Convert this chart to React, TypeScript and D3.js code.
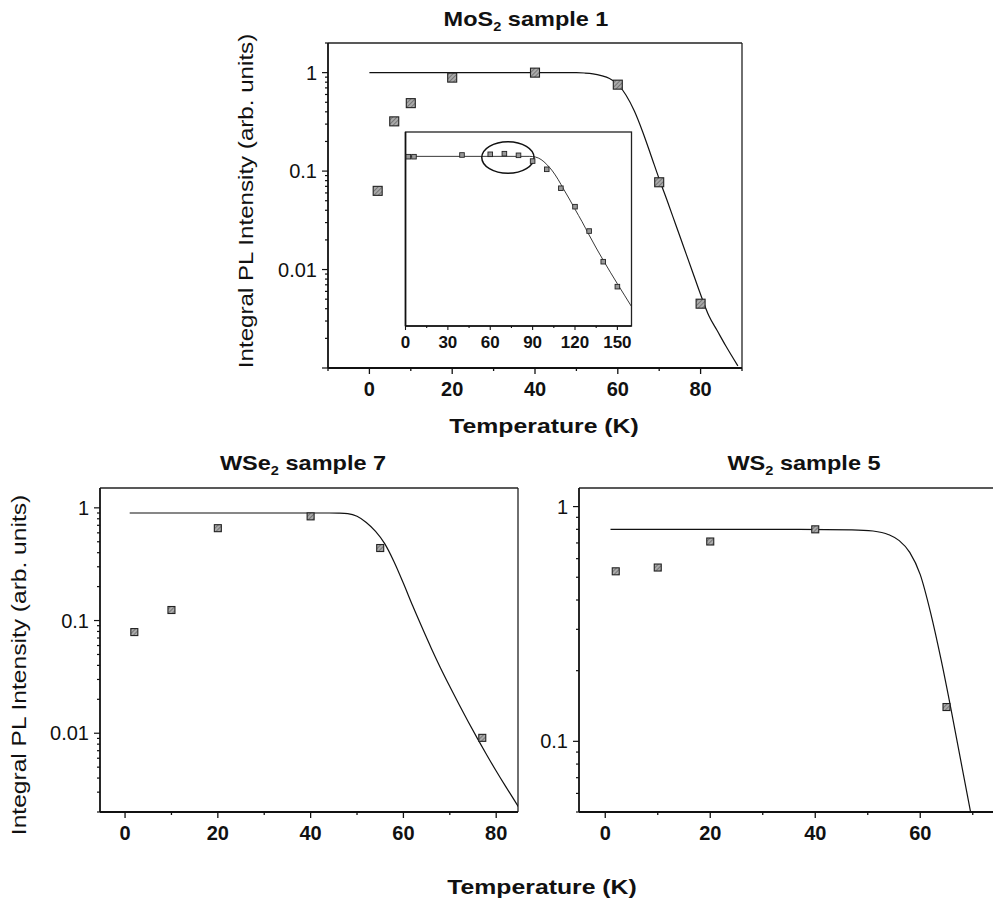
import React from 'react';
import * as d3 from 'd3';

const FONT = '"Liberation Sans", Arial, Helvetica, sans-serif';

// ---- MoS2 sample 1 (main) ----
const mos2T = [2, 6, 10, 20, 40, 60, 70, 80];
const mos2I = [0.063, 0.32, 0.49, 0.89, 1.0, 0.755, 0.077, 0.0045];
const mos2FitT = [0, 45, 50, 52, 54, 56, 58, 60, 62, 64, 66, 68, 70, 72, 74, 76, 78, 80, 82, 84, 86, 89];
const mos2FitI = [1, 1, 0.998, 0.991, 0.973, 0.933, 0.871, 0.759, 0.589, 0.407, 0.251, 0.145, 0.083, 0.0491, 0.0285, 0.01656, 0.00962, 0.00558, 0.00339, 0.0024, 0.0017, 0.00105];

// ---- MoS2 inset ----
const insetT = [2, 6, 40, 60, 70, 80, 90, 100, 110, 120, 130, 140, 150];
const insetI = [0.415, 0.415, 0.441, 0.452, 0.462, 0.436, 0.355, 0.265, 0.135, 0.07, 0.0294, 0.00987, 0.00406];
const insetFitT = [0, 88, 92, 96, 100, 104, 108, 112, 116, 120, 125, 130, 135, 140, 145, 150, 155, 160];
const insetFitI = [0.42, 0.42, 0.41, 0.375, 0.315, 0.25, 0.185, 0.13, 0.092, 0.064, 0.041, 0.0255, 0.0161, 0.0104, 0.0068, 0.0045, 0.003, 0.002];
const insetEllipseT = [54, 91];
const insetEllipseI = [0.23, 0.708];

// ---- WSe2 sample 7 ----
const wse2T = [2, 10, 20, 40, 55, 77];
const wse2I = [0.079, 0.124, 0.66, 0.84, 0.44, 0.0091];
const wse2FitT = [1, 44, 46, 48, 50, 52, 54, 56, 58, 60, 62, 64, 66, 68, 70, 72, 74, 76, 78, 80, 82, 84, 85];
const wse2FitI = [0.9, 0.9, 0.897, 0.887, 0.841, 0.741, 0.617, 0.479, 0.331, 0.214, 0.135, 0.0871, 0.0569, 0.038, 0.026, 0.018, 0.0126, 0.00891, 0.00638, 0.00462, 0.00339, 0.00251, 0.00216];

// ---- WS2 sample 5 ----
const ws2T = [2, 10, 20, 40, 65];
const ws2I = [0.53, 0.55, 0.71, 0.8, 0.14];
const ws2FitT = [1, 37, 47, 51, 54, 56, 58, 60, 62, 64, 66, 68, 70];
const ws2FitI = [0.8, 0.8, 0.796, 0.787, 0.759, 0.716, 0.638, 0.513, 0.351, 0.221, 0.132, 0.0767, 0.0447];

// ---- ticks ----
const xTicks80 = [0, 20, 40, 60, 80];
const xTicks60 = [0, 20, 40, 60];
const insetXTicks = [0, 30, 60, 90, 120, 150];
const yTicksA = [1, 0.1, 0.01];
const yTickLabelsA = ['1', '0.1', '0.01'];
const yTicksB = [1, 0.1];
const yTickLabelsB = ['1', '0.1'];

function logMinor(domain: [number, number]) {
  const out: { v: number; major: boolean }[] = [];
  const k0 = Math.floor(Math.log10(domain[0]));
  const k1 = Math.ceil(Math.log10(domain[1]));
  for (let k = k0; k <= k1; k++) {
    for (let m = 1; m <= 9; m++) {
      const v = m * Math.pow(10, k);
      if (v >= domain[0] * 0.9999 && v <= domain[1] * 1.0001) out.push({ v, major: m === 1 });
    }
  }
  return out;
}

type PanelProps = {
  id: string;
  left: number; right: number; top: number; bottom: number;
  xDomain: [number, number]; yDomain: [number, number];
  xTicks: number[]; xMinorStep: number;
  yTicks: number[]; yTickLabels: string[];
  t: number[]; v: number[]; fitT: number[]; fitV: number[];
  markerSize: number;
  children?: React.ReactNode;
};

function Panel(p: PanelProps) {
  const x = d3.scaleLinear().domain(p.xDomain).range([p.left, p.right]);
  const y = d3.scaleLog().domain(p.yDomain).range([p.bottom, p.top]);
  const line = d3
    .line<number>()
    .x((d) => x(d))
    .y((_d, i) => y(p.fitV[i]))
    .curve(d3.curveMonotoneX);
  const minorX: number[] = [];
  for (let v = Math.ceil(p.xDomain[0] / p.xMinorStep) * p.xMinorStep; v <= p.xDomain[1]; v += p.xMinorStep) minorX.push(v);
  const yt = logMinor(p.yDomain);
  const s = p.markerSize;
  return (
    <g>
      <defs>
        <clipPath id={'clip-' + p.id}>
          <rect x={p.left} y={p.top} width={p.right - p.left} height={p.bottom - p.top} />
        </clipPath>
      </defs>
      <line x1={p.left} x2={p.right} y1={p.top} y2={p.top} stroke="#222" strokeWidth={1.3} />
      <line x1={p.right} x2={p.right} y1={p.top} y2={p.bottom} stroke="#222" strokeWidth={1.3} />
      <line x1={p.left} x2={p.right} y1={p.bottom} y2={p.bottom} stroke="#111" strokeWidth={1.8} />
      <line x1={p.left} x2={p.left} y1={p.top} y2={p.bottom} stroke="#111" strokeWidth={1.8} />
      {minorX.map((v) => {
        const major = p.xTicks.includes(v);
        return (
          <line key={'xt' + v} x1={x(v)} x2={x(v)} y1={p.bottom} y2={p.bottom + (major ? 6 : 3)} stroke="#111" strokeWidth={1.3} />
        );
      })}
      {p.xTicks.map((v) => (
        <text key={'xl' + v} x={x(v)} y={p.bottom + 28} textAnchor="middle" fontFamily={FONT} fontWeight="bold" fontSize={20} fill="#111">
          {v}
        </text>
      ))}
      {yt.map((d) => (
        <line key={'yt' + d.v} x1={p.left - (d.major ? 6 : 3)} x2={p.left} y1={y(d.v)} y2={y(d.v)} stroke="#111" strokeWidth={1.2} />
      ))}
      {p.yTicks.map((v, i) => (
        <text key={'yl' + v} x={p.left - 11} y={y(v) + 7} textAnchor="end" fontFamily={FONT} fontSize={20} fill="#111">
          {p.yTickLabels[i]}
        </text>
      ))}
      <g clipPath={`url(#clip-${p.id})`}>
        <path d={line(p.fitT) || ''} fill="none" stroke="#111" strokeWidth={1.2} />
      </g>
      {p.children}
      {p.t.map((t, i) => (
        <rect key={'pt' + i} x={x(t) - s / 2} y={y(p.v[i]) - s / 2} width={s} height={s} fill="url(#hatch)" stroke="#222" strokeWidth={1.1} />
      ))}
    </g>
  );
}

function Inset() {
  const left = 405.5, right = 631.5, top = 132, bottom = 326;
  const x = d3.scaleLinear().domain([0, 160]).range([left, right]);
  const y = d3.scaleLog().domain([0.001, 1]).range([bottom, top]);
  const line = d3
    .line<number>()
    .x((d) => x(d))
    .y((_d, i) => y(insetFitI[i]))
    .curve(d3.curveMonotoneX);
  const minor: number[] = [];
  for (let v = 0; v <= 160; v += 15) minor.push(v);
  const cx = (x(insetEllipseT[0]) + x(insetEllipseT[1])) / 2;
  const rx = (x(insetEllipseT[1]) - x(insetEllipseT[0])) / 2;
  const cy = (y(insetEllipseI[0]) + y(insetEllipseI[1])) / 2;
  const ry = (y(insetEllipseI[0]) - y(insetEllipseI[1])) / 2;
  return (
    <g>
      <defs>
        <clipPath id="clip-inset">
          <rect x={left} y={top} width={right - left} height={bottom - top} />
        </clipPath>
      </defs>
      <rect x={left} y={top} width={right - left} height={bottom - top} fill="#fff" stroke="#222" strokeWidth={1.3} />
      <line x1={left} x2={right} y1={bottom} y2={bottom} stroke="#111" strokeWidth={1.6} />
      <line x1={left} x2={left} y1={top} y2={bottom} stroke="#111" strokeWidth={1.6} />
      {minor.map((v) => (
        <line key={'it' + v} x1={x(v)} x2={x(v)} y1={bottom} y2={bottom + (v % 30 === 0 ? 4 : 2)} stroke="#111" strokeWidth={1.1} />
      ))}
      {insetXTicks.map((v) => (
        <text key={'il' + v} x={x(v)} y={bottom + 22} textAnchor="middle" fontFamily={FONT} fontWeight="bold" fontSize={17} fill="#111">
          {v}
        </text>
      ))}
      <g clipPath="url(#clip-inset)">
        <path d={line(insetFitT) || ''} fill="none" stroke="#222" strokeWidth={0.9} />
      </g>
      <ellipse cx={cx} cy={cy} rx={rx} ry={ry} fill="none" stroke="#111" strokeWidth={1.5} />
      {insetT.map((t, i) => (
        <rect key={'ip' + i} x={x(t) - 2.3} y={y(insetI[i]) - 2.3} width={4.6} height={4.6} fill="#999" stroke="#222" strokeWidth={0.9} />
      ))}
    </g>
  );
}

function Title({ x, y, pre, post }: { x: number; y: number; pre: string; post: string }) {
  return (
    <text transform={`translate(${x},${y}) scale(1.12,1)`} textAnchor="middle" fontFamily={FONT} fontWeight="bold" fontSize={21} fill="#111">
      <tspan>{pre}</tspan>
      <tspan fontSize={13} dy={5}>2</tspan>
      <tspan dy={-5}>{post}</tspan>
    </text>
  );
}

export default function App() {
  return (
    <svg width={993} height={905} style={{ position: 'absolute', left: 0, top: 0, background: '#fff' }}>
      <defs>
        <pattern id="hatch" width="3" height="3" patternUnits="userSpaceOnUse" patternTransform="rotate(45)">
          <rect width="3" height="3" fill="#aaa" />
          <line x1="0" y1="0" x2="0" y2="3" stroke="#555" strokeWidth="1.2" />
        </pattern>
      </defs>
      <rect x={0} y={0} width={993} height={905} fill="#fff" />

      <Title x={526} y={26} pre="MoS" post=" sample 1" />
      <Panel
        id="mos2"
        left={328} right={742} top={43} bottom={368}
        xDomain={[-10, 90]} yDomain={[0.001, 2]}
        xTicks={xTicks80} xMinorStep={10}
        yTicks={yTicksA} yTickLabels={yTickLabelsA}
        t={mos2T} v={mos2I} fitT={mos2FitT} fitV={mos2FitI}
        markerSize={9}
      >
        <Inset />
      </Panel>
      <text transform="translate(544,433) scale(1.18,1)" textAnchor="middle" fontFamily={FONT} fontWeight="bold" fontSize={21} fill="#111">
        Temperature (K)
      </text>
      <text transform="translate(253,201) rotate(-90) scale(1.15,1)" textAnchor="middle" fontFamily={FONT} fontSize={21} fill="#111">
        Integral PL Intensity (arb. units)
      </text>

      <Title x={303} y={470} pre="WSe" post=" sample 7" />
      <Panel
        id="wse2"
        left={100} right={518} top={488} bottom={812}
        xDomain={[-5.4, 84.7]} yDomain={[0.002, 1.5]}
        xTicks={xTicks80} xMinorStep={10}
        yTicks={yTicksA} yTickLabels={yTickLabelsA}
        t={wse2T} v={wse2I} fitT={wse2FitT} fitV={wse2FitI}
        markerSize={7}
      />

      <Title x={804} y={470} pre="WS" post=" sample 5" />
      <Panel
        id="ws2"
        left={579} right={999} top={488} bottom={812}
        xDomain={[-5, 75]} yDomain={[0.05, 1.2]}
        xTicks={xTicks60} xMinorStep={10}
        yTicks={yTicksB} yTickLabels={yTickLabelsB}
        t={ws2T} v={ws2I} fitT={ws2FitT} fitV={ws2FitI}
        markerSize={7}
      />

      <text transform="translate(26,665) rotate(-90) scale(1.17,1)" textAnchor="middle" fontFamily={FONT} fontSize={21} fill="#111">
        Integral PL Intensity (arb. units)
      </text>
      <text transform="translate(542,894) scale(1.18,1)" textAnchor="middle" fontFamily={FONT} fontWeight="bold" fontSize={21} fill="#111">
        Temperature (K)
      </text>
    </svg>
  );
}
